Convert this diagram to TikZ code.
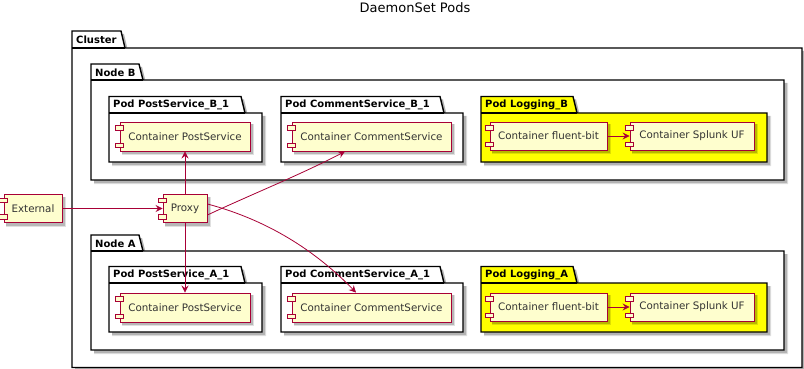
\documentclass[tikz,border=0pt]{standalone}
\usepackage{fontspec}
\setmainfont{DejaVu Sans}
\usetikzlibrary{arrows.meta}

\definecolor{cfill}{HTML}{FEFECE}
\definecolor{cline}{HTML}{A80036}
\definecolor{podyellow}{HTML}{FFFF00}

\tikzset{
  comp/.style={draw=cline, fill=cfill, line width=0.9pt, inner sep=0pt,
    font=\fontsize{10.3}{12}\selectfont, text=black!80},
  compbar/.style={draw=cline, fill=cfill, line width=0.8pt},
  pkgline/.style={draw=black, line width=1.4pt, line join=miter},
  pkglabel/.style={font=\bfseries\fontsize{10}{12}\selectfont, anchor=west, inner sep=0pt},
  softshadow/.style={fill=black, opacity=#1, draw=none},
  flow/.style={draw=cline, line width=0.8pt,
    -{Stealth[length=7pt, width=7pt, inset=2.5pt]}},
}

% component box: name, centre x, centre y, width, height, text
\newcommand\compbox[6]{%
  \fill[softshadow=0.12] (#2-#4/2+2,#3-#5/2+2) rectangle (#2+#4/2+4,#3+#5/2+4);
  \fill[softshadow=0.18] (#2-#4/2+2,#3-#5/2+2) rectangle (#2+#4/2+3,#3+#5/2+3);
  \node[comp, minimum width=#4, minimum height=#5] (#1) at (#2,#3) {#6};
  \draw[compbar] ([xshift=-4pt,yshift=-4pt]#1.north west) rectangle ++(8pt,-4.5pt);
  \draw[compbar] ([xshift=-4pt,yshift=4pt]#1.south west) rectangle ++(8pt,4.5pt);
}

% package: name, left, tab top, body top, right, bottom, tab right, label, fill
\newcommand\pkg[9]{%
  \fill[softshadow=0.12] (#2+3,#3+3) -- (#7-4+3,#3+3) -- (#7+3,#4+3) -- (#5+4,#4+3)
     -- (#5+4,#6+4) -- (#2+3,#6+4) -- cycle;
  \fill[softshadow=0.2] (#2+3,#3+3) -- (#7-4+3,#3+3) -- (#7+3,#4+3) -- (#5+3,#4+3)
     -- (#5+3,#6+3) -- (#2+3,#6+3) -- cycle;
  \path[pkgline, fill=#9] (#2,#3) -- (#7-4,#3) -- (#7,#4) -- (#5,#4)
     -- (#5,#6) -- (#2,#6) -- cycle;
  \draw[pkgline] (#2,#4) -- (#7,#4);
  \node[pkglabel] (#1) at (#2+4,{(#3+#4)/2+0.5}) {#8};
}

\begin{document}
\begin{tikzpicture}[x=1pt, y=-1pt]
  \useasboundingbox (0,0) rectangle (804,369);

  % title
  \node[font=\fontsize{13}{15}\selectfont] (title) at (415,8) {DaemonSet Pods};

  % cluster and the two nodes
  \pkg{cluster}{72}{31}{48}{802}{367.5}{125}{Cluster}{white}
  \pkg{nodeB}{91}{64}{80}{784}{180}{143}{Node B}{white}
  \pkg{nodeA}{91}{235}{251}{784}{350}{143}{Node A}{white}

  % pods on node B
  \pkg{podPostB}{109}{96.5}{113}{262}{162}{245}{Pod PostService\_B\_1}{white}
  \pkg{podCommentB}{281}{96.5}{113}{463}{162}{444}{Pod CommentService\_B\_1}{white}
  \pkg{podLogB}{481}{96.5}{113}{767}{162}{577}{Pod Logging\_B}{podyellow}

  % pods on node A
  \pkg{podPostA}{109}{266.5}{283}{262}{332}{245}{Pod PostService\_A\_1}{white}
  \pkg{podCommentA}{281}{266.5}{283}{463}{332}{444}{Pod CommentService\_A\_1}{white}
  \pkg{podLogA}{481}{266.5}{283}{767}{332}{577}{Pod Logging\_A}{podyellow}

  % containers on node B
  \compbox{postB}{185}{136.5}{130}{29}{Container PostService}
  \compbox{commentB}{371.5}{136.5}{159}{29}{Container CommentService}
  \compbox{fluentB}{548.5}{136}{117}{28}{Container fluent-bit}
  \compbox{splunkB}{692}{136}{124}{28}{Container Splunk UF}

  % containers on node A
  \compbox{postA}{185}{307.5}{130}{29}{Container PostService}
  \compbox{commentA}{371.5}{307.5}{159}{29}{Container CommentService}
  \compbox{fluentA}{548.5}{307}{117}{28}{Container fluent-bit}
  \compbox{splunkA}{692}{307}{124}{28}{Container Splunk UF}

  % entry points
  \compbox{external}{33}{208.5}{58}{28}{External}
  \compbox{proxy}{185}{208.5}{44}{28}{Proxy}

  % traffic
  \draw[flow] (external.east) -- (proxy.west);
  \draw[flow] (proxy.north) -- (postB.south);
  \draw[flow] (proxy.south) -- (postA.north);
  \draw[flow] ([yshift=-6.5pt]proxy.east) .. controls (250,195) and (300,175)
     .. ([xshift=-26.5pt]commentB.south);
  \draw[flow] ([yshift=4.5pt]proxy.east) .. controls (260,218) and (310,245)
     .. ([xshift=-15.5pt]commentA.north);
  \draw[flow] (fluentB.east) -- (splunkB.west);
  \draw[flow] (fluentA.east) -- (splunkA.west);
\end{tikzpicture}
\end{document}
